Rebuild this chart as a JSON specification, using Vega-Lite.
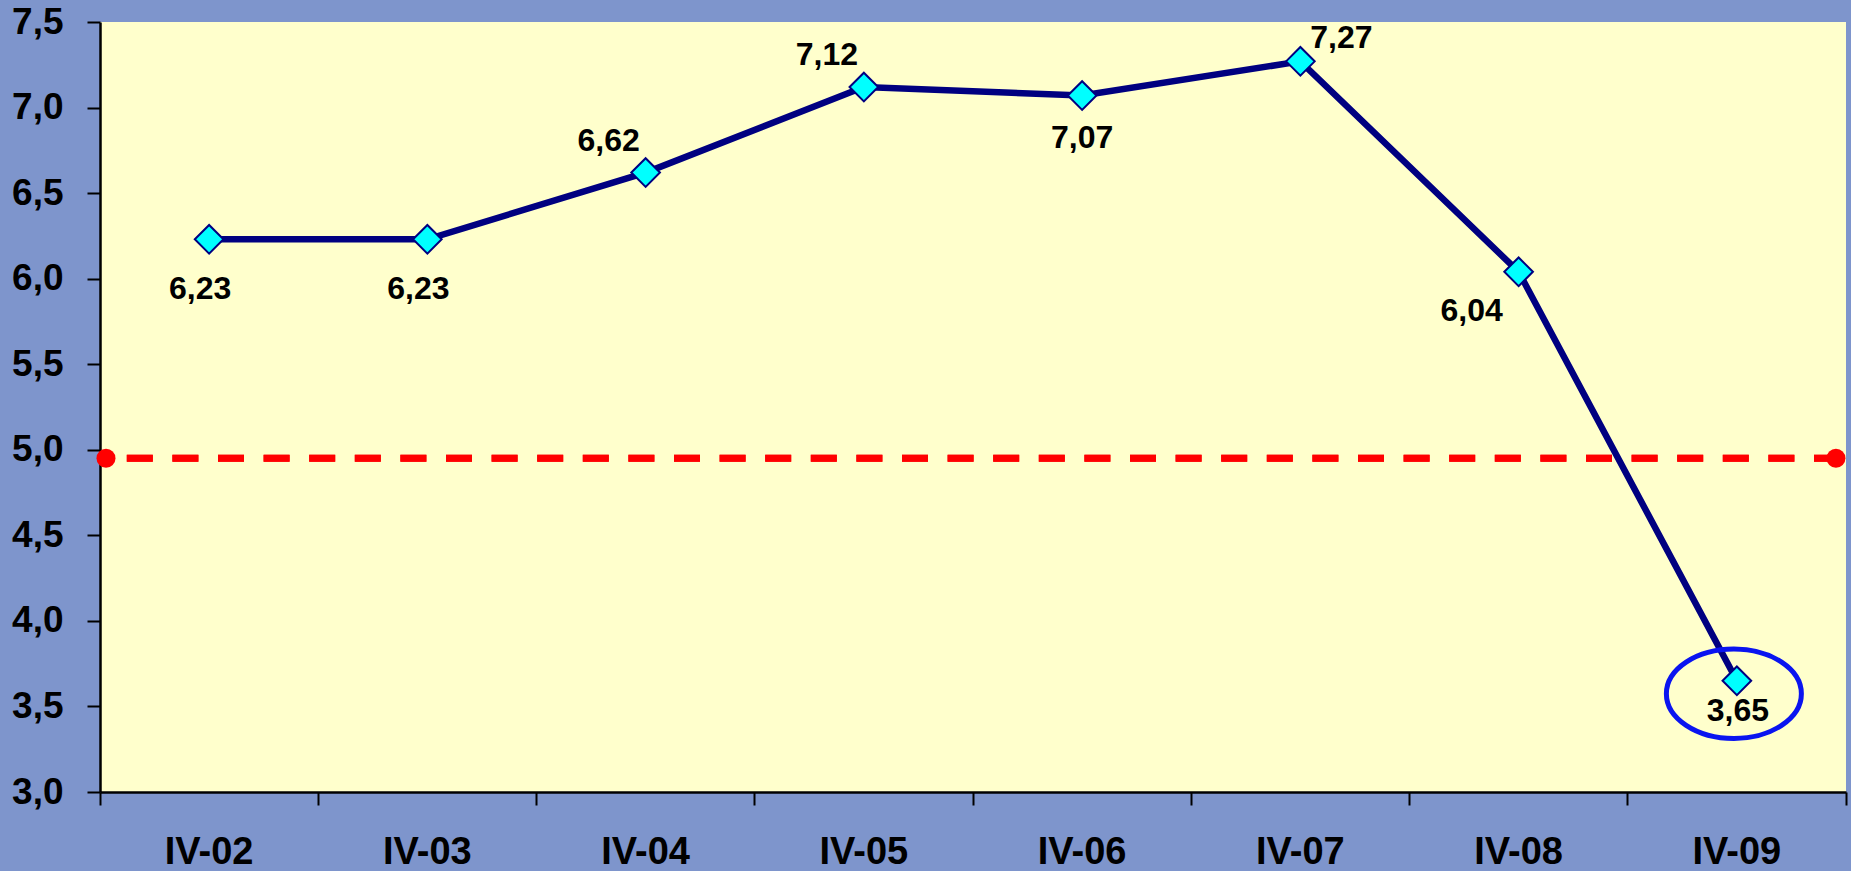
{
  "$schema": "https://vega.github.io/schema/vega-lite/v6.json",
  "width": 1746,
  "height": 770,
  "autosize": {"type": "none"},
  "padding": {"left": 100, "top": 22, "right": 5, "bottom": 79},
  "background": "#7E95CC",
  "config": {
    "locale": {"number": {"decimal": ",", "thousands": ".", "grouping": [3], "currency": ["", ""]}},
    "view": {"fill": "#FFFFCC", "stroke": null},
    "font": "Liberation Sans"
  },
  "datasets": {
    "series": [
      {"q": "IV-02", "v": 6.23},
      {"q": "IV-03", "v": 6.23},
      {"q": "IV-04", "v": 6.62},
      {"q": "IV-05", "v": 7.12},
      {"q": "IV-06", "v": 7.07},
      {"q": "IV-07", "v": 7.27},
      {"q": "IV-08", "v": 6.04},
      {"q": "IV-09", "v": 3.65}
    ],
    "limit": [
      {"q": "IV-02", "v": 4.95},
      {"q": "IV-09", "v": 4.95}
    ]
  },
  "data": {"name": "series"},
  "layer": [
    {
      "mark": {"type": "line", "color": "#000080", "strokeWidth": 6.5},
      "encoding": {
        "x": {"field": "q", "type": "nominal", "sort": null, "scale": {"type": "band", "paddingInner": 0, "paddingOuter": 0},
          "axis": {"title": null, "bandPosition": 1, "tickExtra": true, "tickSize": 13, "tickWidth": 2, "tickColor": "#000000", "domainColor": "#000000", "domainWidth": 2.5, "labelFont": "Liberation Sans", "labelFontSize": 38, "labelFontWeight": "bold", "labelColor": "#000000", "labelPadding": 58, "labelBaseline": "alphabetic", "labelAngle": 0, "grid": false}},
        "y": {"field": "v", "type": "quantitative", "scale": {"domain": [3, 7.5], "nice": false, "zero": false},
          "axis": {"title": null, "values": [3, 3.5, 4, 4.5, 5, 5.5, 6, 6.5, 7, 7.5], "format": ".1f", "tickSize": 13, "tickWidth": 2, "tickColor": "#000000", "domainColor": "#000000", "domainWidth": 2.5, "labelFont": "Liberation Sans", "labelFontSize": 37, "labelFontWeight": "bold", "labelColor": "#000000", "labelPadding": 24, "grid": false}}
      }
    },
    {
      "data": {"name": "limit"},
      "mark": {"type": "rule", "color": "#FF0000", "strokeWidth": 7, "strokeDash": [26, 19.6], "strokeDashOffset": 39.6},
      "encoding": {
        "y": {"field": "v", "type": "quantitative"}
      }
    },
    {
      "data": {"name": "limit"},
      "transform": [{"filter": {"field": "q", "equal": "IV-02"}}],
      "mark": {"type": "point", "shape": "circle", "filled": true, "color": "#FF0000", "size": 361, "opacity": 1},
      "encoding": {
        "x": {"field": "q", "type": "nominal", "sort": null, "bandPosition": 0.0275},
        "y": {"field": "v", "type": "quantitative"}
      }
    },
    {
      "data": {"name": "limit"},
      "transform": [{"filter": {"field": "q", "equal": "IV-09"}}],
      "mark": {"type": "point", "shape": "circle", "filled": true, "color": "#FF0000", "size": 361, "opacity": 1},
      "encoding": {
        "x": {"field": "q", "type": "nominal", "sort": null, "bandPosition": 0.954},
        "y": {"field": "v", "type": "quantitative"}
      }
    },
    {
      "mark": {"type": "point", "shape": "diamond", "filled": true, "fill": "#00FFFF", "stroke": "#000080", "strokeWidth": 2, "size": 820, "opacity": 1},
      "encoding": {
        "x": {"field": "q", "type": "nominal", "sort": null},
        "y": {"field": "v", "type": "quantitative"}
      }
    },
    {
      "transform": [{"filter": {"field": "q", "oneOf": ["IV-02", "IV-03"]}}],
      "mark": {"type": "text", "fontSize": 32, "fontWeight": "bold", "color": "#000000", "baseline": "alphabetic", "align": "center", "dx": -9, "dy": 60},
      "encoding": {
        "x": {"field": "q", "type": "nominal", "sort": null},
        "y": {"field": "v", "type": "quantitative"},
        "text": {"field": "v", "type": "quantitative", "format": ".2f"}
      }
    },
    {
      "transform": [{"filter": {"field": "q", "equal": "IV-06"}}],
      "mark": {"type": "text", "fontSize": 32, "fontWeight": "bold", "color": "#000000", "baseline": "alphabetic", "align": "center", "dx": 0, "dy": 52},
      "encoding": {
        "x": {"field": "q", "type": "nominal", "sort": null},
        "y": {"field": "v", "type": "quantitative"},
        "text": {"field": "v", "type": "quantitative", "format": ".2f"}
      }
    },
    {
      "transform": [{"filter": {"field": "q", "equal": "IV-08"}}],
      "mark": {"type": "text", "fontSize": 32, "fontWeight": "bold", "color": "#000000", "baseline": "alphabetic", "align": "center", "dx": -47, "dy": 49},
      "encoding": {
        "x": {"field": "q", "type": "nominal", "sort": null},
        "y": {"field": "v", "type": "quantitative"},
        "text": {"field": "v", "type": "quantitative", "format": ".2f"}
      }
    },
    {
      "transform": [{"filter": {"field": "q", "equal": "IV-09"}}],
      "mark": {"type": "text", "fontSize": 32, "fontWeight": "bold", "color": "#000000", "baseline": "alphabetic", "align": "center", "dx": 1, "dy": 40},
      "encoding": {
        "x": {"field": "q", "type": "nominal", "sort": null},
        "y": {"field": "v", "type": "quantitative"},
        "text": {"field": "v", "type": "quantitative", "format": ".2f"}
      }
    },
    {
      "transform": [{"filter": {"field": "q", "oneOf": ["IV-04", "IV-05"]}}],
      "mark": {"type": "text", "fontSize": 32, "fontWeight": "bold", "color": "#000000", "baseline": "alphabetic", "align": "center", "dx": -37, "dy": -22},
      "encoding": {
        "x": {"field": "q", "type": "nominal", "sort": null},
        "y": {"field": "v", "type": "quantitative"},
        "text": {"field": "v", "type": "quantitative", "format": ".2f"}
      }
    },
    {
      "transform": [{"filter": {"field": "q", "equal": "IV-07"}}],
      "mark": {"type": "text", "fontSize": 32, "fontWeight": "bold", "color": "#000000", "baseline": "alphabetic", "align": "center", "dx": 41, "dy": -13},
      "encoding": {
        "x": {"field": "q", "type": "nominal", "sort": null},
        "y": {"field": "v", "type": "quantitative"},
        "text": {"field": "v", "type": "quantitative", "format": ".2f"}
      }
    },
    {
      "transform": [{"filter": {"field": "q", "equal": "IV-09"}}],
      "mark": {"type": "point", "shape": "M-1,0A1,0.662,0,1,0,1,0A1,0.662,0,1,0,-1,0Z", "filled": false, "stroke": "#0A14F0", "strokeWidth": 5, "size": 18225, "opacity": 1, "xOffset": -3, "yOffset": 13},
      "encoding": {
        "x": {"field": "q", "type": "nominal", "sort": null},
        "y": {"field": "v", "type": "quantitative"}
      }
    }
  ]
}
